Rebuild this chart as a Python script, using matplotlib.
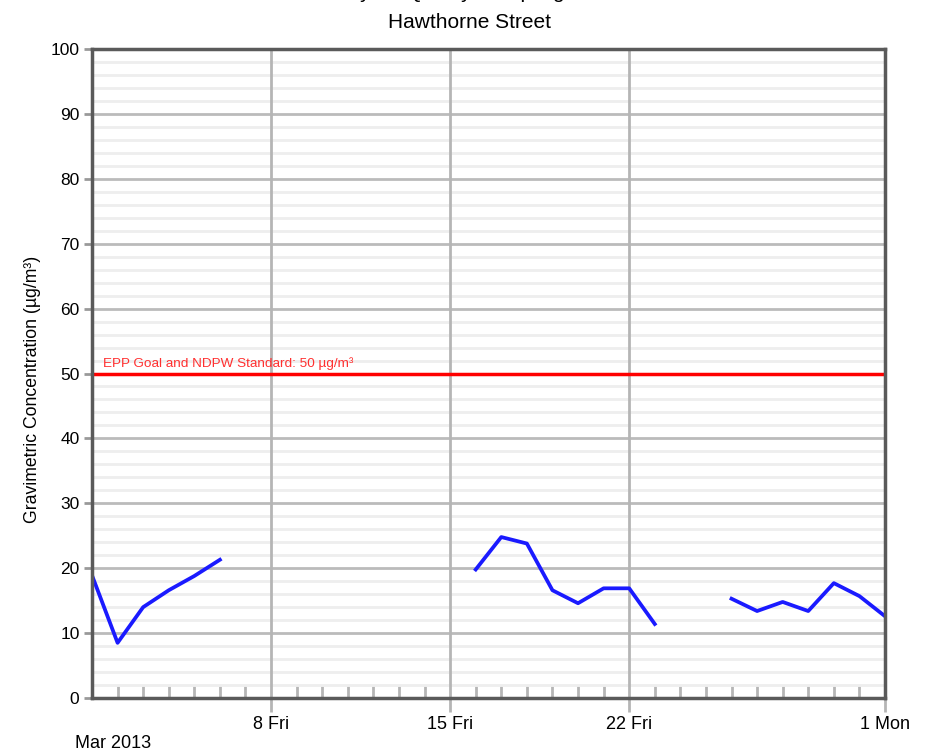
import matplotlib
matplotlib.use("Agg")
import matplotlib.pyplot as plt
import matplotlib.dates as mdates
import numpy as np
import datetime as dt

plt.rcParams['font.family'] = ['Liberation Sans', 'DejaVu Sans']

# ---- data ----
start_date = dt.date(2013, 3, 1)
values = [18.9, 8.5, 14.0, 16.6, 18.8, 21.3,
          np.nan, np.nan, np.nan, np.nan, np.nan, np.nan, np.nan, np.nan, np.nan,
          19.8, 24.8, 23.8, 16.6, 14.6, 16.9, 16.9, 11.4,
          np.nan, np.nan,
          15.3, 13.4, 14.8, 13.4, 17.7, 15.7, 12.6]
dates = [start_date + dt.timedelta(days=i) for i in range(len(values))]
standard_value = 50
standard_label = "EPP Goal and NDPW Standard: 50 µg/m³"
major_tick_dates = [dt.date(2013, 3, 8), dt.date(2013, 3, 15), dt.date(2013, 3, 22), dt.date(2013, 4, 1)]
major_tick_labels = ["8 Fri", "15 Fri", "22 Fri", "1 Mon"]
title_line1 = "Monthly Air Quality Sampling Results"
title_line2 = "Hawthorne Street"
ylabel = "Gravimetric Concentration (µg/m³)"
month_label = "Mar 2013"

fig = plt.figure(figsize=(9.25, 7.51), dpi=100)
ax = fig.add_axes([92/925, 1-698/751, (885-92)/925, (698-49)/751])

x = mdates.date2num(dates)
x0 = mdates.date2num(dt.date(2013, 3, 1))
x1 = mdates.date2num(dt.date(2013, 4, 1))
ax.set_xlim(x0, x1)
ax.set_ylim(0, 100)

# horizontal grid
ax.set_yticks(np.arange(0, 101, 10))
ax.set_yticks(np.arange(0, 101, 2), minor=True)
ax.grid(axis='y', which='minor', color='#eeeeee', linewidth=2)
ax.grid(axis='y', which='major', color='#bbbbbb', linewidth=2)
ax.set_axisbelow(True)

# x ticks
major_x = mdates.date2num(major_tick_dates)
ax.set_xticks(major_x)
ax.set_xticklabels(major_tick_labels)
ax.set_xticks(mdates.date2num([dt.date(2013, 3, 1) + dt.timedelta(days=i) for i in range(32)]), minor=True)
for xv in major_x:
    if x0 < xv < x1:
        ax.axvline(xv, color='#b5b5b5', linewidth=2, zorder=1.5)

ax.tick_params(axis='x', which='major', direction='out', length=10, width=2, color='#b5b5b5',
               labelsize=13, pad=3)
ax.tick_params(axis='x', which='minor', direction='in', length=9, width=2, color='#b5b5b5')
ax.tick_params(axis='y', which='major', direction='out', length=6, width=2, color='#999999',
               labelsize=12.5, pad=3)
ax.tick_params(axis='y', which='minor', length=0)

for s in ax.spines.values():
    s.set_color('#5a5a5a')
    s.set_linewidth(2.5)
    s.set_zorder(6)

ax.axhline(standard_value, color='#ff0000', linewidth=2.5, zorder=3)
ax.text(x[0] + 0.42, standard_value + 0.6, standard_label, color='#ff3030', fontsize=9.7,
        ha='left', va='bottom', zorder=4)

ax.plot(x, values, color='#1a1aff', linewidth=2.7, zorder=5, solid_joinstyle='round')

ax.set_ylabel(ylabel, fontsize=12.7)
ax.yaxis.set_label_coords(-0.064, 0.475)

fig.text(469/925, 1 - 22/751, title_line2, ha='center', va='center', fontsize=15)
fig.text(469/925, 1 + 2/751, title_line1, ha='center', va='baseline', fontsize=15)
fig.text(75/925, 1 - 744/751, month_label, ha='left', va='center', fontsize=13)

fig.savefig("out.png", dpi=100)
